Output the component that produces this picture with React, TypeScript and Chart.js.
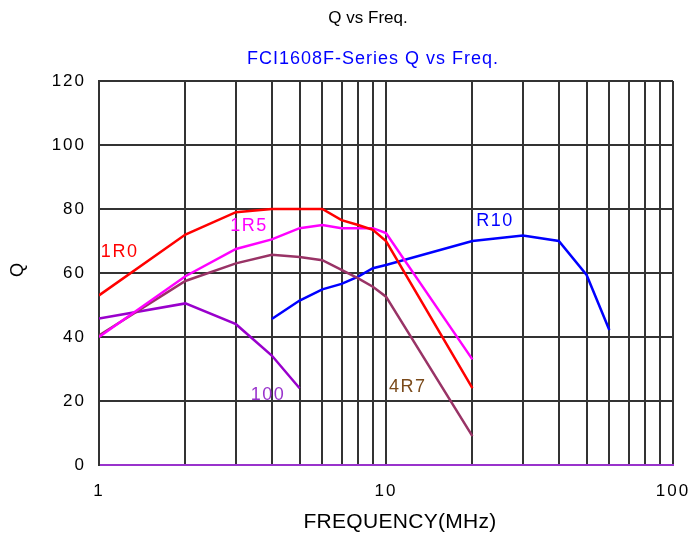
import React, { useEffect, useRef } from "react";
import { Chart, registerables } from "chart.js";

Chart.register(...registerables);

const chartTitle = "Q vs Freq.";
const chartSubtitle = "FCI1608F-Series Q vs Freq.";
const xAxisTitle = "FREQUENCY(MHz)";
const yAxisTitle = "Q";

const xGridValues = [1, 2, 3, 4, 5, 6, 7, 8, 9, 10, 20, 30, 40, 50, 60, 70, 80, 90, 100];
const xLabelValues = [1, 10, 100];

const freqA = [1, 2, 3, 4, 5, 6, 7, 8, 9, 10, 20];
const q1R0 = [53, 72, 79, 80, 80, 80, 76.5, 75, 73.5, 70, 24];
const q1R5 = [40, 59, 67.5, 70.5, 74, 75, 74, 74, 74, 72.5, 33];
const q4R7 = [40.5, 57.5, 63, 65.7, 65, 64, 61, 58.3, 55.7, 52.6, 9];
const freq100 = [1, 2, 3, 4, 5];
const q100 = [45.8, 50.5, 44, 34.2, 24];
const freqR10 = [4, 5, 6, 7, 8, 9, 10, 20, 30, 40, 50, 60];
const qR10 = [45.6, 51.4, 54.9, 56.6, 58.9, 61.5, 62.5, 70, 71.7, 70, 59.4, 42.2];

const seriesNames = ["1R0", "1R5", "4R7", "100", "R10"];
const seriesColors = ["#ff0000", "#ff00ff", "#993366", "#9900cc", "#0000ff"];
const labelColors = ["#ff0000", "#ff00ff", "#7a4a1a", "#9933cc", "#0000ff"];
// label anchor positions in data coordinates [freq, Q]
const labelFreq = [1.18, 3.33, 11.9, 3.88, 24.0];
const labelQ = [66.6, 74.7, 24.4, 21.9, 76.2];

const FONT = "'Liberation Sans', Arial, sans-serif";

function pts(xs: number[], ys: number[]) {
  return xs.map((x, i) => ({ x, y: ys[i] }));
}

const textPlugin = {
  id: "textPlugin",
  beforeDraw(chart: any) {
    (chart.ctx as any).letterSpacing = "2px";
  },
  afterDraw(chart: any) {
    const ctx = chart.ctx as CanvasRenderingContext2D;
    const xs = chart.scales.x;
    const ys = chart.scales.y;
    const area = chart.chartArea;
    ctx.save();
    ctx.textAlign = "center";
    ctx.textBaseline = "middle";
    (ctx as any).letterSpacing = "0px";
    ctx.fillStyle = "#000";
    ctx.font = `17px ${FONT}`;
    ctx.fillText(chartTitle, 368, 18);

    (ctx as any).letterSpacing = "1px";
    ctx.font = `18px ${FONT}`;
    ctx.fillStyle = "#0000ff";
    ctx.fillText(chartSubtitle, 373, 59);

    (ctx as any).letterSpacing = "0.3px";
    ctx.fillStyle = "#000";
    ctx.font = `21px ${FONT}`;
    ctx.fillText(xAxisTitle, (area.left + area.right) / 2 + 14, 522);

    (ctx as any).letterSpacing = "0px";
    ctx.save();
    ctx.translate(18, 270);
    ctx.rotate(-Math.PI / 2);
    ctx.font = `18px ${FONT}`;
    ctx.fillText(yAxisTitle, 0, 0);
    ctx.restore();

    ctx.font = `18px ${FONT}`;
    (ctx as any).letterSpacing = "1.5px";
    for (let i = 0; i < seriesNames.length; i++) {
      ctx.fillStyle = labelColors[i];
      ctx.fillText(
        seriesNames[i],
        xs.getPixelForValue(labelFreq[i]),
        ys.getPixelForValue(labelQ[i])
      );
    }
    ctx.restore();
    (ctx as any).letterSpacing = "0px";
  },
};

export default function App() {
  const ref = useRef<HTMLCanvasElement | null>(null);
  useEffect(() => {
    if (!ref.current) return;
    const mk = (i: number, xs: number[], ys: number[]) => ({
      label: seriesNames[i],
      data: pts(xs, ys),
      borderColor: seriesColors[i],
      backgroundColor: seriesColors[i],
      borderWidth: 2.5,
      pointRadius: 0,
      tension: 0,
      fill: false,
    });
    const chart = new Chart(ref.current, {
      type: "line",
      data: {
        datasets: [
          mk(0, freqA, q1R0),
          mk(1, freqA, q1R5),
          mk(2, freqA, q4R7),
          mk(3, freq100, q100),
          mk(4, freqR10, qR10),
        ],
      },
      options: {
        animation: false,
        responsive: false,
        devicePixelRatio: 1,
        layout: { padding: { left: 0, top: 81, right: 18, bottom: 0 } },
        plugins: {
          legend: { display: false },
          title: { display: false },
          tooltip: { enabled: false },
        },
        scales: {
          x: {
            type: "logarithmic",
            min: 1,
            max: 100,
            afterBuildTicks(scale: any) {
              scale.ticks = xGridValues.map((v) => ({ value: v, major: false }));
            },
            afterFit(scale: any) {
              scale.height = 73;
              scale.paddingLeft = 0;
              scale.paddingRight = 0;
            },
            ticks: {
              autoSkip: false,
              maxRotation: 0,
              minRotation: 0,
              padding: 16,
              color: "#000",
              font: { family: FONT, size: 17 },
              callback: (v: any) => (xLabelValues.includes(Number(v)) ? String(v) : ""),
            },
            grid: {
              color: "#333333",
              lineWidth: 2,
              drawTicks: false,
            },
            border: { display: true, color: "#9933cc", width: 2 },
          },
          y: {
            min: 0,
            max: 120,
            afterFit(scale: any) {
              scale.width = 99;
              scale.paddingTop = 0;
              scale.paddingBottom = 0;
            },
            ticks: {
              stepSize: 20,
              padding: 13,
              color: "#000",
              font: { family: FONT, size: 17 },
            },
            grid: {
              color: (c: any) => (c.tick && c.tick.value === 0 ? "rgba(0,0,0,0)" : "#333333"),
              lineWidth: 2,
              drawTicks: false,
            },
            border: { display: true, color: "#333333", width: 2 },
          },
        },
      },
      plugins: [textPlugin],
    } as any);
    return () => chart.destroy();
  }, []);
  return (
    <div style={{ position: "fixed", left: 0, top: 0, width: 691, height: 538, background: "#fff" }}>
      <canvas ref={ref} width={691} height={538} style={{ display: "block" }} />
    </div>
  );
}
